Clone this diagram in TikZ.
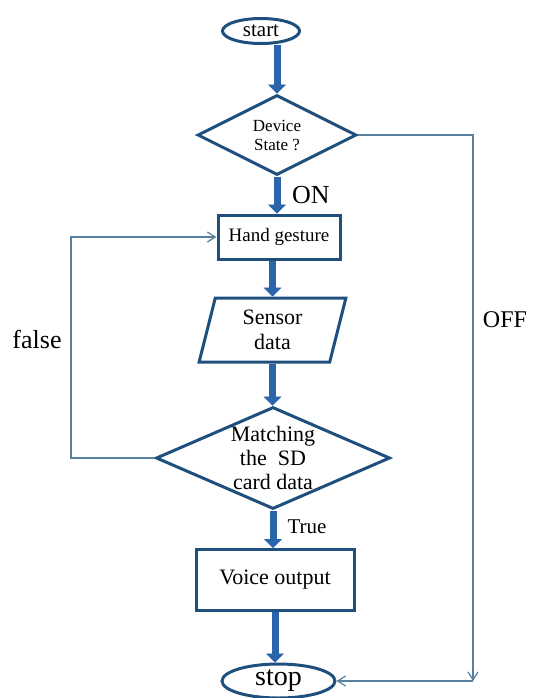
\documentclass[tikz,border=0pt]{standalone}
\usepackage{fontspec}
\setmainfont{Liberation Serif}
\usetikzlibrary{shapes.geometric,arrows.meta}
\definecolor{edgeblue}{RGB}{31,80,125}
\definecolor{flowblue}{RGB}{42,100,170}
\definecolor{loopblue}{RGB}{85,128,158}
\newcommand{\fsz}[2]{\fontsize{#1}{#2}\selectfont}
\begin{document}
\begin{tikzpicture}[x=0.5pt,y=-0.5pt,
  term/.style={ellipse,draw=edgeblue,line width=1.5pt,inner sep=0pt},
  proc/.style={rectangle,draw=edgeblue,line width=1.5pt,inner sep=0pt},
  io/.style={trapezium,trapezium left angle=78,trapezium right angle=102,
             trapezium stretches=true,draw=edgeblue,line width=1.5pt,inner sep=0pt},
  decide/.style={diamond,aspect=2,draw=edgeblue,line width=1.5pt,inner sep=0pt},
  flow/.style={draw=flowblue,line width=3.5pt,
               -{Triangle[length=4.5pt,width=9pt,line width=0.4pt]}},
  back/.style={draw=loopblue,line width=0.6pt,
               -{Straight Barb[length=4pt,width=5pt]}},
  tag/.style={anchor=base}]
\useasboundingbox (0,0) rectangle (541,698);
\node[term,minimum width=38.5pt,minimum height=12.5pt,font=\fsz{10.5}{12}]
  (start) at (261,31) {start};
\node[decide,minimum width=79.5pt,minimum height=40pt,align=center,
  font=\fsz{8.5}{9.5}] (state) at (277,135) {Device\\State ?};
\node[proc,minimum width=61pt,minimum height=22pt,font=\fsz{9.5}{11}]
  (hand) at (279,237) {Hand gesture};
\node[io,minimum width=73.5pt,minimum height=32pt,align=center,
  font=\fsz{11}{12.5}] (sensor) at (272.5,330) {Sensor\\data};
\node[decide,minimum width=117pt,minimum height=51pt,
  label={[font=\fsz{11}{12},align=center]center:{Matching\\the\ \ SD\\card data}}]
  (match) at (273,458) {};
\node[proc,minimum width=79pt,minimum height=30.5pt,font=\fsz{11}{13}]
  (voice) at (275,580) {Voice output};
\node[term,minimum width=56.5pt,minimum height=17pt,font=\fsz{14}{16}]
  (stop) at (278.5,681) {stop};
\node[tag,font=\fsz{13}{15}] (on) at (311,203) {ON};
\node[tag,font=\fsz{10.5}{12}] (true) at (307,533) {True};
\node[tag,font=\fsz{13}{15}] (false) at (37,348) {false};
\node[tag,font=\fsz{12}{14}] (off) at (505,327) {OFF};
\coordinate (offdrop) at (473,681);
\coordinate (falseleft) at (71,458);
\draw[flow] (state.north |- start.south) -- (state.north);
\draw[flow] (state.south) -- (state.south |- hand.north);
\draw[flow] (sensor.north |- hand.south) -- (sensor.north);
\draw[flow] (sensor.south) -- (sensor.south |- match.north);
\draw[flow] (match.south) -- (match.south |- voice.north);
\draw[flow] (voice.south) -- (voice.south |- stop.north);
\draw[back] (state.east) -| (offdrop);
\draw[back] (offdrop) -- (stop.east);
\draw[back] (match.west) -- (falseleft) |- (hand.west);
\end{tikzpicture}
\end{document}
